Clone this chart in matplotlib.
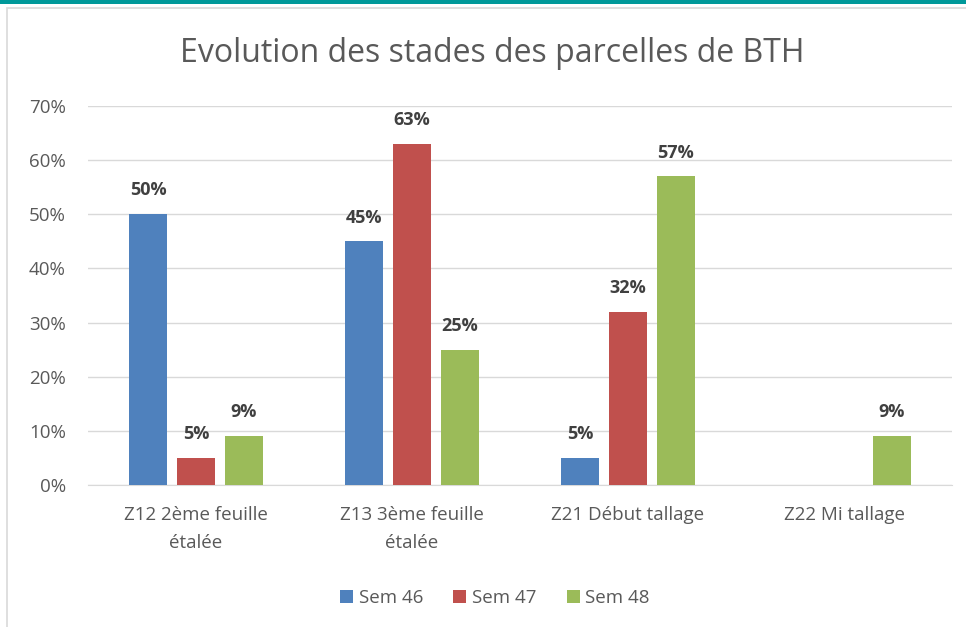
import matplotlib as mpl
import matplotlib.pyplot as plt
import matplotlib.patches as patches
import numpy as np

mpl.rcParams["font.family"] = ["Open Sans", "DejaVu Sans"]

# -----------------------------
# data
# -----------------------------
categories = ["Z12 2ème feuille\nétalée", "Z13 3ème feuille\nétalée",
              "Z21 Début tallage", "Z22 Mi tallage"]
series_names = ["Sem 46", "Sem 47", "Sem 48"]
sem46 = [0.50, 0.45, 0.05, 0.0]
sem47 = [0.05, 0.63, 0.32, 0.0]
sem48 = [0.09, 0.25, 0.57, 0.09]
yticks = [0.0, 0.1, 0.2, 0.3, 0.4, 0.5, 0.6, 0.7]

colors = ["#4f81bd", "#c0504d", "#9bbb59"]
text_grey = "#595959"

# -----------------------------
# figure
# -----------------------------
fig = plt.figure(figsize=(9.66, 6.27), dpi=100)
ax = fig.add_axes([88 / 966, 1 - 485 / 627, 864 / 966, 379 / 627])

# teal top band + chart frame
fig.add_artist(patches.Rectangle((0, 1 - 4 / 627), 1, 4 / 627,
                                 transform=fig.transFigure,
                                 facecolor="#00999a", edgecolor="none"))
fig.add_artist(patches.Rectangle((7 / 966, -0.01), 1.0, 1 - 8 / 627 + 0.01,
                                 transform=fig.transFigure, facecolor="none",
                                 edgecolor="#d9d9d9", linewidth=1.2))

x = np.arange(len(categories))
width = 0.18
step = 0.222
for i, (vals, name) in enumerate(zip([sem46, sem47, sem48], series_names)):
    pos = x + (i - 1) * step
    bars = ax.bar(pos, vals, width, color=colors[i], label=name, zorder=3)
    for b, v in zip(bars, vals):
        if v > 0:
            ax.text(b.get_x() + b.get_width() / 2, v + 0.044, f"{v:.0%}",
                    ha="center", va="center", fontsize=13,
                    fontweight="bold", color="#404040")

ax.set_xlim(-0.5, len(categories) - 0.5)
ax.set_ylim(0, 0.7)
ax.set_yticks(yticks)
ax.set_yticklabels([f"{t:.0%}" for t in yticks])
ax.set_xticks(x)
ax.set_xticklabels(categories, linespacing=1.7)
ax.tick_params(axis="both", length=0, labelsize=13.5, colors=text_grey)
ax.tick_params(axis="y", pad=16)
ax.tick_params(axis="x", pad=15)
ax.grid(axis="y", color="#d9d9d9", linewidth=1, zorder=0)
for s in ["top", "right", "left"]:
    ax.spines[s].set_visible(False)
ax.spines["bottom"].set_color("#d9d9d9")

fig.text(492 / 966, 1 - 54 / 627, "Evolution des stades des parcelles de BTH",
         ha="center", va="center", fontsize=23, color=text_grey)

fig.legend(loc="center", bbox_to_anchor=(495 / 966, 1 - 598 / 627), ncol=3,
           frameon=False, fontsize=13.5, handlelength=0.7, handleheight=0.7,
           handletextpad=0.3, columnspacing=1.6, labelcolor=text_grey)

plt.savefig("out.png", dpi=100)
